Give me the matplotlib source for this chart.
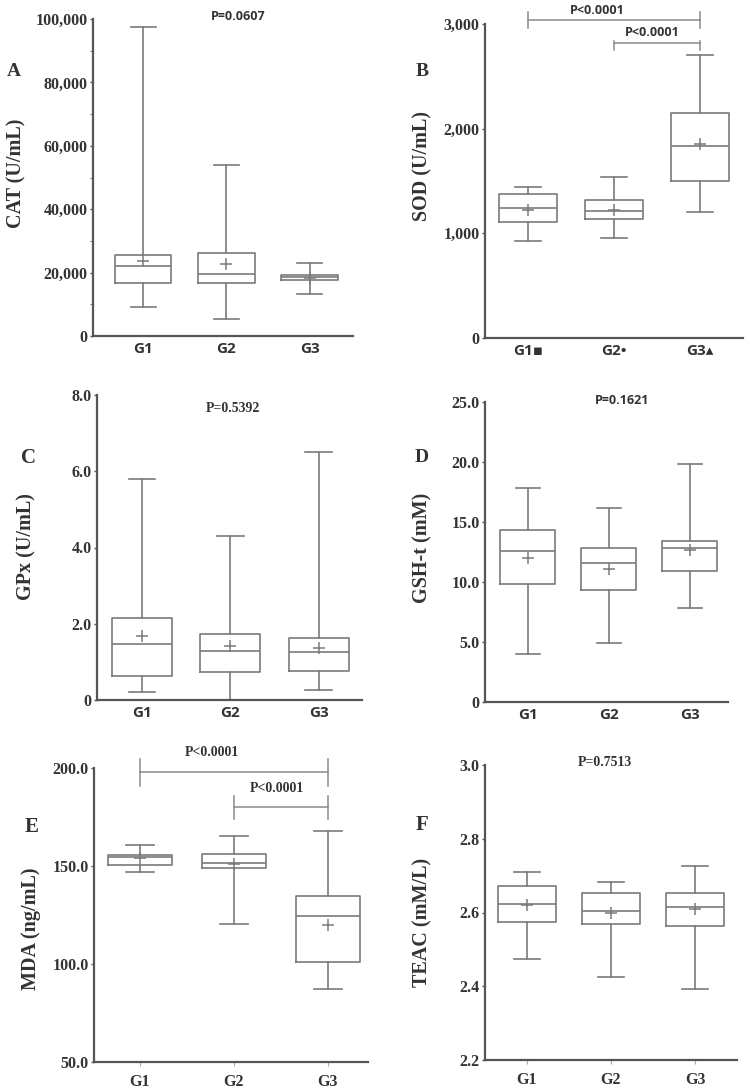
import matplotlib
matplotlib.use("Agg")
import matplotlib.pyplot as plt
from matplotlib.ticker import FuncFormatter, MultipleLocator

W, H = 750, 1091

# ----------------------------
# DATA
# ----------------------------
groups = ["G1", "G2", "G3"]
groups_b = ["G1\u25aa", "G2\u2022", "G3\u25b4"]

# order per group: whislo, q1, med, q3, whishi, mean
cat = [[9000, 16800, 22200, 25500, 97500, 23800],
       [5300, 16800, 19600, 26300, 53800, 22600],
       [13400, 17700, 18500, 19100, 22900, 18300]]
sod = [[930, 1110, 1240, 1380, 1440, 1220],
       [960, 1140, 1210, 1320, 1540, 1220],
       [1200, 1500, 1830, 2150, 2700, 1850]]
gpx = [[0.20, 0.62, 1.47, 2.15, 5.80, 1.67],
       [0.00, 0.73, 1.28, 1.72, 4.30, 1.42],
       [0.27, 0.75, 1.25, 1.62, 6.50, 1.37]]
gsh = [[4.0, 9.8, 12.6, 14.3, 17.8, 12.0],
       [4.9, 9.3, 11.6, 12.8, 16.2, 11.1],
       [7.8, 10.9, 12.8, 13.4, 19.8, 12.7]]
mda = [[147.0, 150.5, 154.5, 155.5, 160.5, 154.0],
       [120.5, 149.0, 151.5, 156.0, 165.5, 151.0],
       [87.5, 101.0, 124.5, 134.5, 168.0, 120.0]]
teac = [[2.474, 2.574, 2.623, 2.672, 2.711, 2.620],
        [2.424, 2.569, 2.605, 2.654, 2.683, 2.600],
        [2.393, 2.564, 2.614, 2.652, 2.727, 2.610]]

p_a, p_c, p_d, p_f = "P=0.0607", "P=0.5392", "P=0.1621", "P=0.7513"
p_sig = "P<0.0001"

SERIF = "Liberation Serif"
SANS = ["Open Sans", "DejaVu Sans"]
BOXC = "#7a7a7a"
AXC = "#555555"


def px_axes(fig, x0, y0, x1, y1):
    return fig.add_axes([x0 / W, 1 - y1 / H, (x1 - x0) / W, (y1 - y0) / H])


def to_stats(rows):
    out = []
    for lo, q1, med, q3, hi, mean in rows:
        out.append(dict(whislo=lo, q1=q1, med=med, q3=q3, whishi=hi,
                        mean=mean, fliers=[]))
    return out


def draw_panel(ax, rows, ylim, xlim, yticks, fmt, xlabels, xfont, xticks_on):
    line = dict(color=BOXC, linewidth=1.2)
    ax.bxp(to_stats(rows), positions=[1, 2, 3], widths=0.68,
           showmeans=True, showfliers=False,
           boxprops=line, whiskerprops=line, capprops=line,
           medianprops=line, capwidths=0.3,
           meanprops=dict(marker="+", markersize=9, markeredgecolor=BOXC,
                          markeredgewidth=1.1))
    ax.set_ylim(*ylim)
    ax.set_xlim(*xlim)
    ax.set_yticks(yticks)
    ax.yaxis.set_major_formatter(FuncFormatter(fmt))
    for s in ["top", "right"]:
        ax.spines[s].set_visible(False)
    for s in ["left", "bottom"]:
        ax.spines[s].set_color(AXC)
        ax.spines[s].set_linewidth(1.6)
    ax.tick_params(axis="y", length=2.5, width=1, color=AXC, pad=1.5)
    for t in ax.get_yticklabels():
        t.set_fontfamily(SERIF)
        t.set_fontweight("bold")
        t.set_fontsize(11.5)
        t.set_color("#333333")
    ax.set_xticks([1, 2, 3])
    ax.set_xticklabels(xlabels)
    if xticks_on:
        ax.tick_params(axis="x", length=3, width=0.8, color="#aaaaaa", pad=6)
    else:
        ax.tick_params(axis="x", length=0, pad=4)
    for t in ax.get_xticklabels():
        t.set_fontfamily(xfont)
        t.set_fontweight("bold")
        t.set_fontsize(11.5 if xfont == SERIF else 11)
        t.set_color("#333333")


def fig_text(fig, x, y, s, **kw):
    fig.text(x / W, 1 - y / H, s, ha="center", va="center", color="#333333",
             fontweight="bold", **kw)


def bracket(ax, x0, x1, y, up, down):
    kw = dict(color="#8a8a8a", linewidth=1.1, clip_on=False)
    ax.plot([x0, x1], [y, y], **kw)
    for x in (x0, x1):
        ax.plot([x, x], [y - down, y + up], **kw)


comma = lambda v, p: "0" if v == 0 else f"{int(v):,}"
one_dec = lambda v, p: "0" if v == 0 else f"{v:.1f}"

fig = plt.figure(figsize=(7.5, 10.91), dpi=100)

# ----------------------------
# A - CAT
# ----------------------------
ax = px_axes(fig, 93, 19, 353, 336)
draw_panel(ax, cat, (0, 100000), (0.4, 3.52), range(0, 100001, 20000),
           comma, groups, SANS, False)
ax.yaxis.set_minor_locator(MultipleLocator(10000))
ax.tick_params(axis="y", which="minor", length=2.5, color=AXC)
fig_text(fig, 238, 16, p_a, family=SANS, fontsize=9)
fig_text(fig, 14, 72, "A", family=SERIF, fontsize=14)
fig_text(fig, 16, 173, "CAT (U/mL)", family=SERIF, fontsize=14.5, rotation=90)

# ----------------------------
# B - SOD
# ----------------------------
ax = px_axes(fig, 485, 24, 743, 338)
draw_panel(ax, sod, (0, 3000), (0.5, 3.5), [0, 1000, 2000, 3000],
           comma, groups_b, SANS, False)
bracket(ax, 1, 3, 3040, 75, 80)
bracket(ax, 2, 3, 2820, 20, 70)
fig_text(fig, 597, 10, p_sig, family=SANS, fontsize=9)
fig_text(fig, 652, 33, p_sig, family=SANS, fontsize=9)
fig_text(fig, 422, 72, "B", family=SERIF, fontsize=14)
fig_text(fig, 422, 166, "SOD (U/mL)", family=SERIF, fontsize=14.5, rotation=90)

# ----------------------------
# C - GPx
# ----------------------------
ax = px_axes(fig, 97, 395, 362, 700)
draw_panel(ax, gpx, (0, 8), (0.49, 3.49), [0, 2, 4, 6, 8],
           one_dec, groups, SANS, False)
fig_text(fig, 233, 408, p_c, family=SERIF, fontsize=10)
fig_text(fig, 29, 458, "C", family=SERIF, fontsize=15)
fig_text(fig, 26, 547, "GPx (U/mL)", family=SERIF, fontsize=14.5, rotation=90)

# ----------------------------
# D - GSH-t
# ----------------------------
ax = px_axes(fig, 485, 402, 728, 702)
draw_panel(ax, gsh, (0, 25), (0.47, 3.47), [0, 5, 10, 15, 20, 25],
           one_dec, groups, SANS, False)
fig_text(fig, 622, 401, p_d, family=SANS, fontsize=9)
fig_text(fig, 422, 457, "D", family=SERIF, fontsize=14)
fig_text(fig, 422, 548, "GSH-t (mM)", family=SERIF, fontsize=14.5, rotation=90)

# ----------------------------
# E - MDA
# ----------------------------
ax = px_axes(fig, 94, 768, 368, 1062)
draw_panel(ax, mda, (50, 200), (0.51, 3.43), [50, 100, 150, 200],
           lambda v, p: f"{v:.1f}", groups, SERIF, True)
bracket(ax, 1, 3, 198, 6.5, 7)
bracket(ax, 2, 3, 180, 5.5, 6)
fig_text(fig, 212, 752, p_sig, family=SERIF, fontsize=10)
fig_text(fig, 277, 788, p_sig, family=SERIF, fontsize=10)
fig_text(fig, 32, 827, "E", family=SERIF, fontsize=15)
fig_text(fig, 31, 929, "MDA (ng/mL)", family=SERIF, fontsize=14.5, rotation=90)

# ----------------------------
# F - TEAC
# ----------------------------
ax = px_axes(fig, 485, 765, 737, 1060)
draw_panel(ax, teac, (2.2, 3.0), (0.5, 3.5), [2.2, 2.4, 2.6, 2.8, 3.0],
           lambda v, p: f"{v:.1f}", groups, SERIF, True)
fig_text(fig, 605, 763, p_f, family=SERIF, fontsize=10)
fig_text(fig, 422, 825, "F", family=SERIF, fontsize=15)
fig_text(fig, 422, 922, "TEAC (mM/L)", family=SERIF, fontsize=14.5, rotation=90)

fig.savefig("out.png", dpi=100)
